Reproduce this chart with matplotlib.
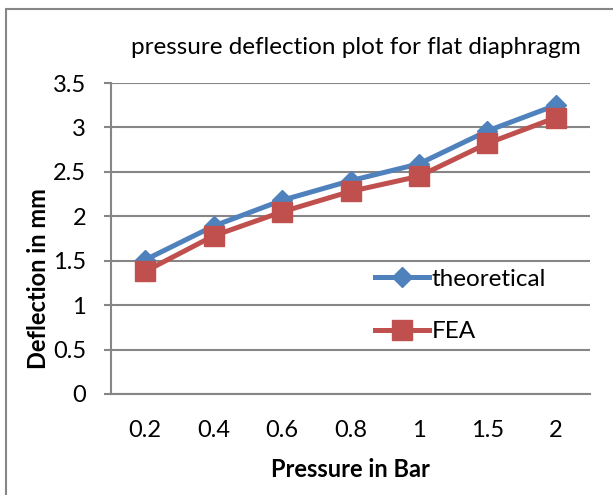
import matplotlib.pyplot as plt
from matplotlib.patches import Rectangle

plt.rcParams['font.family'] = ['Lato', 'DejaVu Sans']

pressure = ["0.2", "0.4", "0.6", "0.8", "1", "1.5", "2"]
theoretical = [1.51, 1.89, 2.18, 2.40, 2.59, 2.96, 3.25]
fea = [1.38, 1.78, 2.05, 2.28, 2.45, 2.82, 3.11]

blue = "#4F81BD"
red = "#C0504D"
grid_col = "#868686"

fig = plt.figure(figsize=(6.13, 4.95), dpi=100)
# chart area border (runs off the right and bottom edge)
fig.patches.append(Rectangle((6 / 613, -0.1), 1.2, (495 - 9) / 495 + 0.1,
                             transform=fig.transFigure, fill=False,
                             edgecolor=grid_col, linewidth=1.5))
ax = fig.add_axes([111 / 613, 1 - 394 / 495, (590 - 111) / 613, (394 - 83) / 495])

x = range(len(pressure))
ax.plot(x, theoretical, color=blue, lw=3.6, marker='D', ms=10, label='theoretical')
ax.plot(x, fea, color=red, lw=3.6, marker='s', ms=14, label='FEA')

ax.set_xlim(-0.5, len(pressure) - 0.5)
ax.set_ylim(0, 3.5)
ax.set_yticks([0, 0.5, 1, 1.5, 2, 2.5, 3, 3.5])
ax.set_yticklabels(["0", "0.5", "1", "1.5", "2", "2.5", "3", "3.5"])
ax.set_xticks(list(x))
ax.set_xticklabels(pressure)
ax.tick_params(axis='both', labelsize=17, color=grid_col)
ax.tick_params(axis='x', length=0, pad=19)
ax.tick_params(axis='y', length=5, width=1.5, pad=13)
ax.grid(axis='y', color=grid_col, lw=1.5)
ax.set_axisbelow(True)
for s in ['top', 'right']:
    ax.spines[s].set_visible(False)
for s in ['left', 'bottom']:
    ax.spines[s].set_color(grid_col)
    ax.spines[s].set_linewidth(1.5)

ax.set_xlabel("Pressure in Bar", fontsize=17, fontweight='bold', labelpad=12)
ax.set_ylabel("Deflection in mm", fontsize=17, fontweight='bold', labelpad=2, y=0.37)
fig.text(356 / 613, 1 - 47 / 495, "pressure deflection plot for flat diaphragm",
         ha='center', va='center', fontsize=17.5)

ax.legend(loc='center left', bbox_to_anchor=(0.552, 0.285), frameon=False,
          fontsize=17.5, handlelength=2.2, handletextpad=0.12, labelspacing=1.3,
          borderaxespad=0, borderpad=0)

plt.savefig("out.png", dpi=100)
